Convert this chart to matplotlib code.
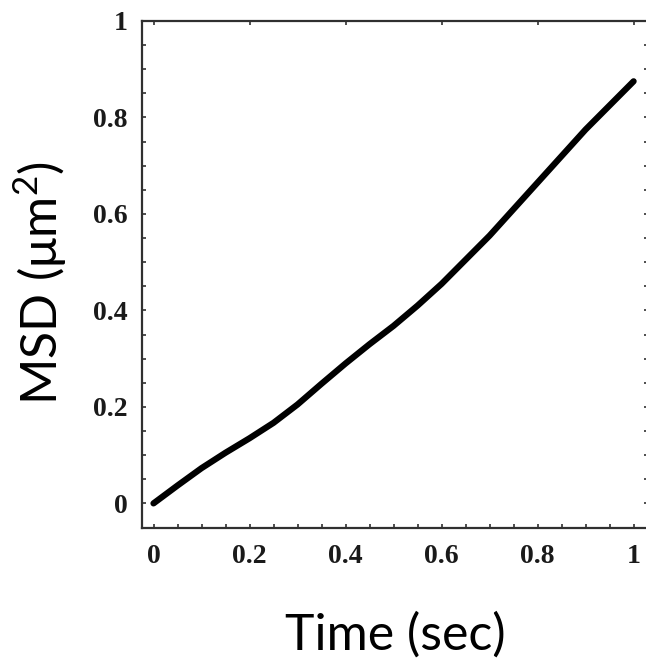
import matplotlib
matplotlib.use("Agg")
import matplotlib.pyplot as plt
from matplotlib.ticker import MultipleLocator

# Data
time_s = [0, 0.05, 0.1, 0.15, 0.2, 0.25, 0.3, 0.35, 0.4, 0.45, 0.5,
          0.55, 0.6, 0.65, 0.7, 0.75, 0.8, 0.85, 0.9, 0.95, 1.0]
msd_um2 = [0, 0.037, 0.073, 0.105, 0.135, 0.167, 0.205, 0.248, 0.29, 0.33, 0.368,
           0.41, 0.455, 0.505, 0.555, 0.61, 0.665, 0.72, 0.775, 0.825, 0.875]
major_ticks = [0, 0.2, 0.4, 0.6, 0.8, 1]
tick_labels = ["0", "0.2", "0.4", "0.6", "0.8", "1"]

plt.rcParams['mathtext.fontset'] = 'custom'
plt.rcParams['mathtext.rm'] = 'Lato'

W, H = 646, 666
fig = plt.figure(figsize=(W / 100, H / 100), dpi=100)
ax = fig.add_axes([141.5 / W, (H - 527.5) / H, (648 - 141.5) / W, (527.5 - 21) / H])

ax.plot(time_s, msd_um2, color='black', lw=4.5, solid_capstyle='round')

ax.set_xlim(-0.025, 1.03)
ax.set_ylim(-0.05, 1.0)

ax.set_xticks(major_ticks)
ax.set_xticklabels(tick_labels)
ax.set_yticks(major_ticks)
ax.set_yticklabels(tick_labels)
ax.xaxis.set_minor_locator(MultipleLocator(0.05))
ax.yaxis.set_minor_locator(MultipleLocator(0.05))

for s in ax.spines.values():
    s.set_linewidth(1.6)
    s.set_color('#303030')

ax.tick_params(which='both', direction='in', length=3, width=1.2, color='#303030',
               top=True, right=True)
ax.tick_params(which='minor', top=False)
ax.tick_params(axis='x', which='major', pad=12)
ax.tick_params(axis='y', which='major', pad=10)

for lab in ax.get_xticklabels() + ax.get_yticklabels():
    lab.set_fontfamily('Liberation Serif')
    lab.set_fontsize(20)
    lab.set_fontweight('bold')
    lab.set_color('#1a1a1a')

fig.text(395 / W, 1 - 635 / H, "Time (sec)", family=['Lato', 'DejaVu Sans'],
         fontsize=36, ha='center', va='center')
fig.text(40 / W, 1 - 283 / H, r"MSD (μm$^2$)", family=['Lato', 'DejaVu Sans'],
         fontsize=36, ha='center', va='center', rotation=90)

fig.savefig("out.png", dpi=100)
